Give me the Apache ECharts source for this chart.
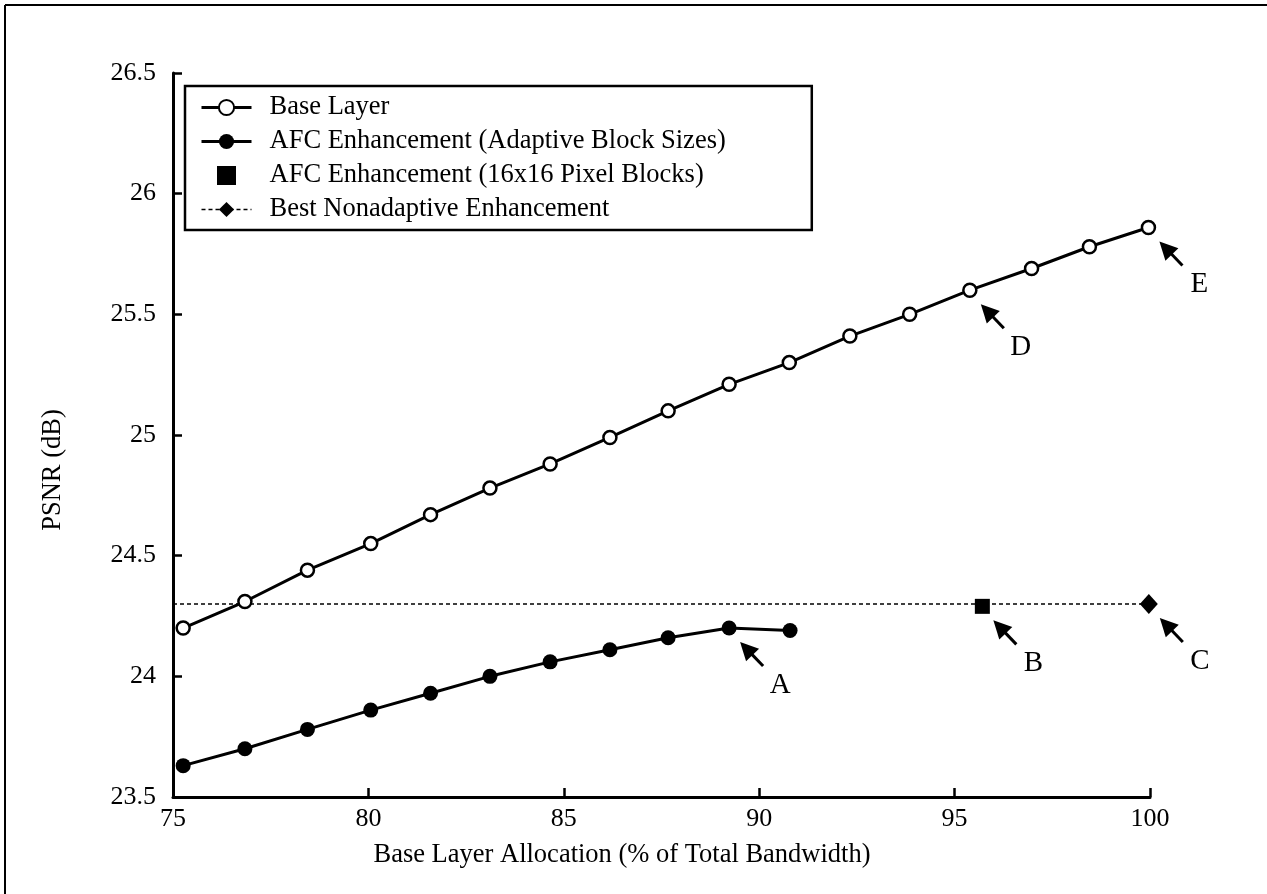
<!DOCTYPE html>
<html><head><meta charset="utf-8">
<script src="https://cdn.jsdelivr.net/npm/echarts@6/dist/echarts.min.js"></script>
<style>html,body{margin:0;padding:0;background:#fff}#c{width:1267px;height:894px}</style>
</head><body><div id="c"></div>
<script>
// ---- data ----
const baseX = [75.26, 76.84, 78.44, 80.06, 81.59, 83.11, 84.65, 86.18, 87.67, 89.23, 90.77, 92.32, 93.85, 95.39, 96.97, 98.45, 99.96];
const baseY = [24.20, 24.31, 24.44, 24.55, 24.67, 24.78, 24.88, 24.99, 25.10, 25.21, 25.30, 25.41, 25.50, 25.60, 25.69, 25.78, 25.86];
const afcX = [75.26, 76.84, 78.44, 80.06, 81.59, 83.11, 84.65, 86.18, 87.67, 89.23, 90.79];
const afcY = [23.63, 23.70, 23.78, 23.86, 23.93, 24.00, 24.06, 24.11, 24.16, 24.20, 24.19];
const blockX = [95.71];
const blockY = [24.29];
const nonadX = [75, 99.97];
const nonadY = [24.30, 24.30];
const annX = [89.23, 95.71, 99.97, 95.39, 99.96];
const annY = [24.20, 24.29, 24.30, 25.60, 25.86];
const annLabels = ['A', 'B', 'C', 'D', 'E'];
const seriesNames = ['Base Layer', 'AFC Enhancement (Adaptive Block Sizes)', 'AFC Enhancement (16x16 Pixel Blocks)', 'Best Nonadaptive Enhancement'];
const xTitle = 'Base Layer Allocation (% of Total Bandwidth)';
const yTitle = 'PSNR (dB)';

const FONT = '"Liberation Serif", "DejaVu Serif", serif';
const pair = (xs, ys) => xs.map((x, i) => [x, ys[i]]);

const chart = echarts.init(document.getElementById('c'), null, {renderer: 'canvas'});

const axisCommon = {
  type: 'value',
  axisLine: {show: true, onZero: false, lineStyle: {color: '#000', width: 3}},
  axisTick: {show: true, inside: true, length: 9, lineStyle: {color: '#000', width: 2.5}},
  splitLine: {show: false},
  minorTick: {show: false}
};

const option = {
  animation: false,
  backgroundColor: '#fff',
  grid: {left: 173, right: 117, top: 73, bottom: 97, containLabel: false, outerBoundsMode: 'none'},
  xAxis: Object.assign({}, axisCommon, {
    min: 75, max: 100, interval: 5,
    axisLabel: {color: '#000', fontFamily: FONT, fontSize: 26, margin: 9, showMinLabel: true, showMaxLabel: true}
  }),
  yAxis: Object.assign({}, axisCommon, {
    min: 23.5, max: 26.5, interval: 0.5,
    axisLabel: {color: '#000', fontFamily: FONT, fontSize: 26, margin: 17, showMinLabel: true, showMaxLabel: true}
  }),
  legend: {
    orient: 'vertical', left: 185, top: 86,
    padding: [8, 86, 7, 15],
    itemWidth: 50, itemHeight: 19, itemGap: 7,
    borderColor: '#000', borderWidth: 2.5,
    selectedMode: false,
    textStyle: {fontFamily: FONT, fontSize: 26.5, color: '#000', padding: [0, 0, 0, 13]},
    data: [
      {name: seriesNames[0], lineStyle: {width: 3}},
      {name: seriesNames[1], lineStyle: {width: 3}},
      {name: seriesNames[2], icon: 'path://M0,0L10,0L10,10L0,10Z', itemStyle: {color: '#000', opacity: 1}},
      {name: seriesNames[3], lineStyle: {width: 1.5}}
    ]
  },
  graphic: [
    {type: 'line', shape: {x1: 5, y1: 5, x2: 1267, y2: 5}, style: {stroke: '#000', lineWidth: 2}},
    {type: 'line', shape: {x1: 5, y1: 5, x2: 5, y2: 894}, style: {stroke: '#000', lineWidth: 2}},
    {type: 'text', x: 622, y: 855, style: {text: xTitle, font: '26.5px ' + FONT, fill: '#000', align: 'center', verticalAlign: 'middle'}},
    {type: 'text', x: 53, y: 470, rotation: Math.PI / 2, style: {text: yTitle, font: '26.5px ' + FONT, fill: '#000', align: 'center', verticalAlign: 'middle'}}
  ],
  series: [
    {
      name: seriesNames[0], type: 'line', data: pair(baseX, baseY),
      symbol: 'circle', symbolSize: 13, showAllSymbol: true,
      lineStyle: {color: '#000', width: 3},
      itemStyle: {color: '#fff', borderColor: '#000', borderWidth: 2.5},
      z: 4
    },
    {
      name: seriesNames[1], type: 'line', data: pair(afcX, afcY),
      symbol: 'circle', symbolSize: 15, showAllSymbol: true,
      lineStyle: {color: '#000', width: 3},
      itemStyle: {color: '#000'},
      z: 4
    },
    {
      name: seriesNames[2], type: 'scatter', data: pair(blockX, blockY),
      symbol: 'rect', symbolSize: 15,
      itemStyle: {color: '#000', opacity: 1},
      z: 5
    },
    {
      name: seriesNames[3], type: 'line',
      data: pair(nonadX, nonadY).map((v, i) => i === nonadX.length - 1 ? {value: v} : {value: v, symbol: 'none'}),
      symbol: 'diamond', symbolSize: [18, 20], showAllSymbol: true,
      lineStyle: {color: '#000', width: 1.5, type: [4, 3]},
      itemStyle: {color: '#000'},
      z: 3
    },
    {
      name: 'annotations', type: 'custom', clip: false, silent: true, z: 6,
      data: pair(annX, annY),
      renderItem: function (params, api) {
        const p = api.coord([api.value(0), api.value(1)]);
        const tip = [p[0] + 11, p[1] + 14];
        const tail = [p[0] + 34, p[1] + 38];
        const dx = tail[0] - tip[0], dy = tail[1] - tip[1];
        const len = Math.sqrt(dx * dx + dy * dy);
        const ux = dx / len, uy = dy / len;
        const nx = -uy, ny = ux;
        const hl = 18, hw = 9;
        const bx = tip[0] + ux * hl, by = tip[1] + uy * hl;
        return {
          type: 'group',
          children: [
            {type: 'polygon', shape: {points: [tip, [bx + nx * hw, by + ny * hw], [bx - nx * hw, by - ny * hw]]}, style: {fill: '#000'}},
            {type: 'line', shape: {x1: bx - ux * 2, y1: by - uy * 2, x2: tail[0], y2: tail[1]}, style: {stroke: '#000', lineWidth: 3}},
            {type: 'text', x: p[0] + 51, y: p[1] + 57, style: {text: annLabels[params.dataIndex], font: '29px ' + FONT, fill: '#000', align: 'center', verticalAlign: 'middle'}}
          ]
        };
      }
    }
  ]
};
chart.setOption(option);
</script>
</body></html>
